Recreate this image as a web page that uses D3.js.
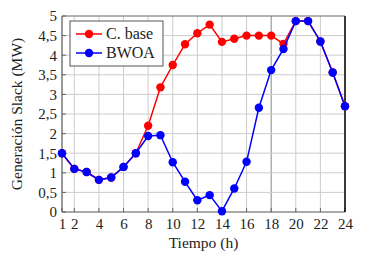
<!DOCTYPE html>
<html>
<head>
<meta charset="utf-8">
<script src="https://cdn.jsdelivr.net/npm/d3@7"></script>
<style>
  body { margin: 0; background: #fff; }
  text { font-family: "Liberation Serif", "DejaVu Serif", serif; }
</style>
</head>
<body>
<div id="chart"></div>
<script>
// hours 1..24
var hours = [1,2,3,4,5,6,7,8,9,10,11,12,13,14,15,16,17,18,19,20,21,22,23,24];
var baseSlack = [1.5,1.1,1.02,0.82,0.88,1.15,1.5,2.2,3.18,3.75,4.28,4.56,4.78,4.34,4.42,4.5,4.5,4.5,4.29,4.87,4.87,4.35,3.56,2.7];
var bwoaSlack = [1.5,1.1,1.02,0.82,0.88,1.15,1.5,1.94,1.96,1.27,0.77,0.3,0.43,0.02,0.6,1.28,2.66,3.62,4.16,4.87,4.87,4.35,3.56,2.7];
var xTicks = [1,2,4,6,8,10,12,14,16,18,20,22,24];
var yTicks = [0,0.5,1,1.5,2,2.5,3,3.5,4,4.5,5];
var seriesNames = ["C. base", "BWOA"];
var seriesColors = ["#ff0000", "#0000ff"];

var W = 365, H = 257;
var margin = {top: 16, right: 20, bottom: 45, left: 62};
var width = W - margin.left - margin.right,
    height = H - margin.top - margin.bottom;

var svg = d3.select("#chart").append("svg")
  .attr("width", W).attr("height", H);
var g = svg.append("g")
  .attr("transform", "translate(" + margin.left + "," + margin.top + ")");

var x = d3.scaleLinear().domain([1, 24]).range([0, width]);
var y = d3.scaleLinear().domain([0, 5]).range([height, 0]);

// grid
g.append("g").selectAll("line").data(xTicks.filter(function(d){ return d > 1; }))
  .enter().append("line")
  .attr("x1", function(d){ return x(d); }).attr("x2", function(d){ return x(d); })
  .attr("y1", 0).attr("y2", height)
  .attr("stroke", function(d){ return d === 18 ? "#888" : "#ccc"; })
  .attr("stroke-width", 1);
g.append("g").selectAll("line").data(yTicks.filter(function(d){ return d > 0 && d < 5; }))
  .enter().append("line")
  .attr("x1", 0).attr("x2", width)
  .attr("y1", function(d){ return y(d); }).attr("y2", function(d){ return y(d); })
  .attr("stroke", "#ccc").attr("stroke-width", 1);

// small inner ticks
g.append("g").selectAll("line").data(yTicks).enter().append("line")
  .attr("x1", 0).attr("x2", 4)
  .attr("y1", function(d){ return y(d); }).attr("y2", function(d){ return y(d); })
  .attr("stroke", "#666").attr("stroke-width", 1);
g.append("g").selectAll("line").data(xTicks).enter().append("line")
  .attr("x1", function(d){ return x(d); }).attr("x2", function(d){ return x(d); })
  .attr("y1", height).attr("y2", height - 4)
  .attr("stroke", "#666").attr("stroke-width", 1);

// frame
g.append("line").attr("x1", 0).attr("x2", width).attr("y1", 0).attr("y2", 0)
  .attr("stroke", "#666").attr("stroke-width", 1.2);
g.append("line").attr("x1", 0).attr("x2", 0).attr("y1", 0).attr("y2", height)
  .attr("stroke", "#555").attr("stroke-width", 1.2);
g.append("line").attr("x1", 0).attr("x2", width).attr("y1", height).attr("y2", height)
  .attr("stroke", "#555").attr("stroke-width", 1.2);
g.append("line").attr("x1", width).attr("x2", width).attr("y1", 0).attr("y2", height)
  .attr("stroke", "#000").attr("stroke-width", 1.5);

// axes (labels only)
var fmt = function(d){ return String(d).replace(".", ","); };
var xAxis = g.append("g").attr("transform", "translate(0," + height + ")")
  .call(d3.axisBottom(x).tickValues(xTicks).tickSize(0).tickPadding(6));
xAxis.select(".domain").remove();
xAxis.selectAll("text").style("font-size", "15px").attr("fill", "#222");

var yAxis = g.append("g")
  .call(d3.axisLeft(y).tickValues(yTicks).tickSize(0).tickPadding(5).tickFormat(fmt));
yAxis.select(".domain").remove();
yAxis.selectAll("text").style("font-size", "15px").attr("fill", "#222");

// titles
svg.append("text").attr("x", margin.left + width / 2).attr("y", 248)
  .attr("text-anchor", "middle").style("font-size", "15.5px").attr("fill", "#222")
  .text("Tiempo (h)");
svg.append("text")
  .attr("transform", "translate(22," + (margin.top + height / 2) + ") rotate(-90)")
  .attr("text-anchor", "middle").style("font-size", "15.5px").attr("fill", "#222")
  .text("Generación Slack (MW)");

// series
var line = d3.line().x(function(d, i){ return x(hours[i]); }).y(function(d){ return y(d); });
[baseSlack, bwoaSlack].forEach(function(vals, k) {
  g.append("path").datum(vals)
    .attr("fill", "none").attr("stroke", seriesColors[k]).attr("stroke-width", 1.5)
    .attr("d", line);
  g.append("g").selectAll("circle").data(vals).enter().append("circle")
    .attr("cx", function(d, i){ return x(hours[i]); })
    .attr("cy", function(d){ return y(d); })
    .attr("r", 4.2).attr("fill", seriesColors[k]);
});

// legend
var leg = svg.append("g").attr("transform", "translate(70,21)");
leg.append("rect").attr("width", 93).attr("height", 45)
  .attr("fill", "#fff").attr("stroke", "#555").attr("stroke-width", 1);
seriesNames.forEach(function(name, k) {
  var ly = 13 + k * 19;
  leg.append("line").attr("x1", 6).attr("x2", 32).attr("y1", ly).attr("y2", ly)
    .attr("stroke", seriesColors[k]).attr("stroke-width", 1.5);
  leg.append("circle").attr("cx", 19).attr("cy", ly).attr("r", 4.2).attr("fill", seriesColors[k]);
  leg.append("text").attr("x", 36).attr("y", ly + 5)
    .style("font-size", "16px").attr("fill", "#222").text(name);
});
</script>
</body>
</html>
